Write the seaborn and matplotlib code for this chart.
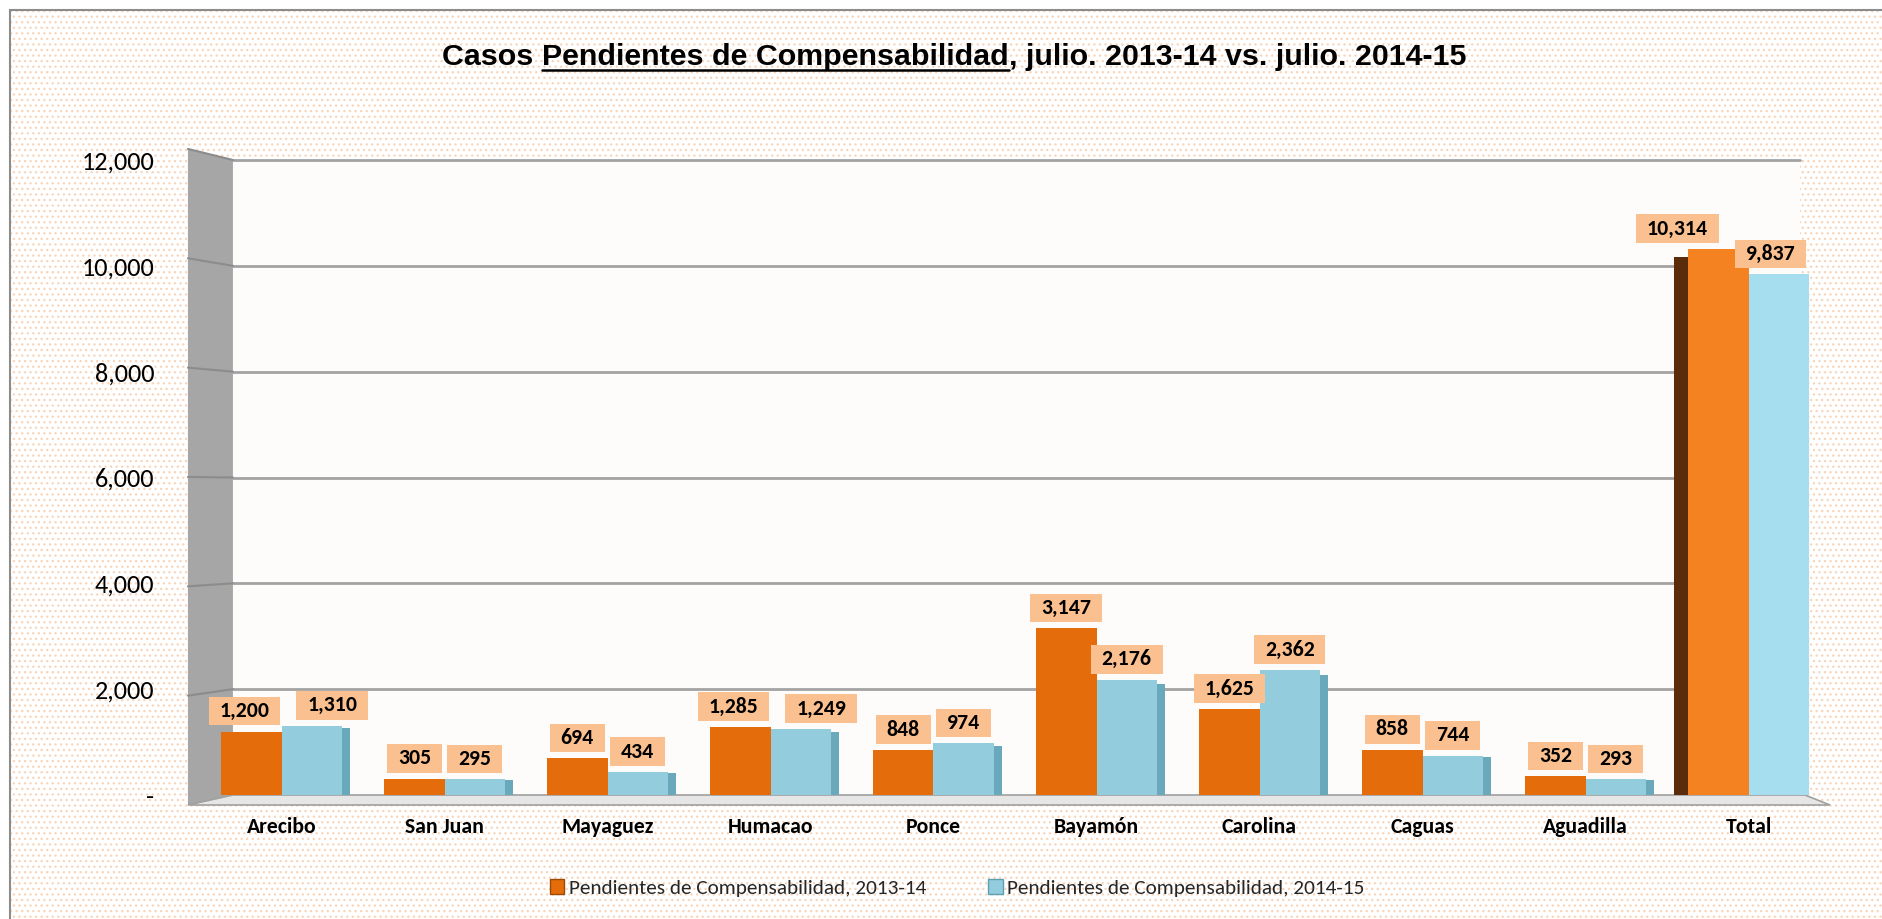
import matplotlib
matplotlib.use("Agg")
import matplotlib.pyplot as plt
import matplotlib.transforms as mtransforms
import seaborn as sns
import pandas as pd
from matplotlib import font_manager as fm
from matplotlib.patches import Rectangle, Polygon
from matplotlib.lines import Line2D
from matplotlib.path import Path

# ---------------- data ----------------
categories = ["Arecibo", "San Juan", "Mayaguez", "Humacao", "Ponce",
              "Bayamón", "Carolina", "Caguas", "Aguadilla", "Total"]
series_names = ["Pendientes de Compensabilidad, 2013-14",
                "Pendientes de Compensabilidad, 2014-15"]
values_2013_14 = [1200, 305, 694, 1285, 848, 3147, 1625, 858, 352, 10314]
values_2014_15 = [1310, 295, 434, 1249, 974, 2176, 2362, 744, 293, 9837]
y_ticks = [0, 2000, 4000, 6000, 8000, 10000, 12000]
y_tick_labels = ["-", "2,000", "4,000", "6,000", "8,000", "10,000", "12,000"]
title_parts = ["Casos ", "Pendientes de Compensabilidad",
               ", julio. 2013-14 vs. julio. 2014-15"]

# ---------------- style ----------------
sns.set_theme(style="white")
available = {f.name for f in fm.fontManager.ttflist}


def pick(*names):
    for n in names:
        if n in available:
            return n
    return "DejaVu Sans"


body_font = pick("Carlito", "Lato", "Open Sans", "Noto Sans")
narrow_font = pick("Liberation Sans Narrow", "Arial Narrow")
has_narrow = narrow_font != "DejaVu Sans"
title_font = narrow_font if has_narrow else pick("Liberation Sans", "Arial")
title_size = 26.7 if has_narrow else 21.9
k = 1.08 if body_font == "Carlito" else 1.0
plt.rcParams["font.family"] = [body_font, "DejaVu Sans"]
plt.rcParams["hatch.linewidth"] = 0.9

orange = "#E46C0A"
blue = "#93CDDD"
orange_total = "#F58220"
blue_total = "#A6DDEF"
label_box = "#FAC090"

W, H = 1883, 919
fig = plt.figure(figsize=(W / 100, H / 100), dpi=100)
fig.patch.set_facecolor("white")

# dotted chart-area background and border
fig.add_artist(Rectangle((10 / W, -0.05), 1.1, (H - 10) / H + 0.05,
                         transform=fig.transFigure, facecolor="white",
                         edgecolor="#F8D4B8", hatch="...", linewidth=0,
                         zorder=-10))
fig.add_artist(Rectangle((10 / W, -0.05), 1.1, (H - 10) / H + 0.05,
                         transform=fig.transFigure, facecolor="none",
                         edgecolor="#8C8C8C", linewidth=1.5, zorder=-9))

ax = fig.add_axes([200 / W, 1 - 795 / H, 1630 / W, 635 / H])
ax.set_facecolor("none")

df = pd.DataFrame({
    "Región": categories * 2,
    "Casos": values_2013_14 + values_2014_15,
    "Serie": [series_names[0]] * len(categories) + [series_names[1]] * len(categories),
})
sns.barplot(data=df, x="Región", y="Casos", hue="Serie",
            palette=[orange, blue], width=0.74, saturation=1,
            ax=ax, legend=False, zorder=3, linewidth=0)
ax.set_xlim(-0.5, len(categories) - 0.5)
ax.set_ylim(0, 12000)

# totals coloured brighter
ax.containers[0][-1].set_facecolor(orange_total)
ax.containers[1][-1].set_facecolor(blue_total)
# dark side face of the total orange bar (3D look)
tb = ax.containers[0][-1]
ax.add_patch(Rectangle((tb.get_x() - 0.09, 0), 0.09, tb.get_height() * 0.985,
                       facecolor="#5B2C0B", edgecolor="none", zorder=2.9))
# side faces for blue bars
for bar in ax.containers[1][:-1]:
    ax.add_patch(Rectangle((bar.get_x() + bar.get_width(), 0), 0.05,
                           bar.get_height() * 0.96, facecolor="#6AA9BB",
                           edgecolor="none", zorder=2.9))

# ---------------- 3D-like walls ----------------
blend = mtransforms.blended_transform_factory(ax.transAxes, ax.transData)
wall_l, wall_r = 0.0202, 0.9816
side_x = -0.0074


def front(v):
    return -189 + v * (12209 + 189) / 12000


ax.add_patch(Rectangle((wall_l, 0), wall_r - wall_l, 12000, transform=blend,
                       facecolor="#FDFCFA", edgecolor="none", zorder=0.5))
ax.add_patch(Polygon([(side_x, front(0)), (wall_l, 0), (wall_l, 12000),
                      (side_x, front(12000))], closed=True, transform=blend,
                     facecolor="#A6A6A6", edgecolor="none", zorder=0.6,
                     clip_on=False))
ax.add_patch(Polygon([(side_x, front(0)), (1.0, front(0)), (wall_r + 0.003, 0),
                      (wall_l, 0)], closed=True, transform=blend,
                     facecolor="#E6E6E6", edgecolor="#A0A0A0", linewidth=1.2,
                     zorder=0.7, clip_on=False))
for v in y_ticks[1:]:
    ax.plot([wall_l, wall_r], [v, v], transform=blend, color="#A3A3A3",
            linewidth=2, zorder=1, clip_on=False)
    ax.plot([side_x, wall_l], [front(v), v], transform=blend, color="#8C8C8C",
            linewidth=1.5, zorder=1, clip_on=False)

# ---------------- axes text ----------------
for s in ax.spines.values():
    s.set_visible(False)
ax.grid(False)
ax.set_yticks(y_ticks)
ax.set_yticklabels(y_tick_labels)
ax.tick_params(axis="y", length=0, pad=33, labelsize=17.5 * k, labelcolor="black")
ax.tick_params(axis="x", length=0, pad=16, labelsize=14.5 * k, labelcolor="black")
for lbl in ax.get_xticklabels():
    lbl.set_fontweight("bold")
ax.set_xlabel("")
ax.set_ylabel("")


def label_box_style(x0, y0, width, height, mutation_size):
    px, py = 0.5 * mutation_size, 0.2 * mutation_size
    x0, y0 = x0 - px, y0 - py
    x1, y1 = x0 + width + 2 * px, y0 + height + 2 * py
    return Path([(x0, y0), (x1, y0), (x1, y1), (x0, y1), (x0, y0)], closed=True)


# data labels
LIFT = 7.5
anns = []
for cont, vals in zip(ax.containers, [values_2013_14, values_2014_15]):
    row = []
    for bar, v in zip(cont, vals):
        a = ax.annotate(f"{v:,}", (bar.get_x() + bar.get_width() / 2, v),
                        xytext=(0, LIFT), textcoords="offset points",
                        ha="center", va="bottom", fontsize=14.5 * k,
                        fontweight="bold", color="black", zorder=6,
                        bbox=dict(boxstyle=label_box_style, fc=label_box, ec="none"))
        row.append(a)
    anns.append(row)

# legend
handles = [Rectangle((0, 0), 1, 1, facecolor=orange, edgecolor="#9C4A06"),
           Rectangle((0, 0), 1, 1, facecolor=blue, edgecolor="#5E9FB2")]
fig.legend(handles, series_names, loc="center",
           bbox_to_anchor=(957 / W, 1 - 888 / H), ncol=2, frameon=False,
           fontsize=14.2 * k, handlelength=0.7, handleheight=0.7,
           handletextpad=0.2, columnspacing=2.9)

# title with underlined middle part
tkw = dict(fontfamily=[title_font, "DejaVu Sans"], fontsize=title_size,
           fontweight="bold", color="black")
t1 = fig.text(0.4, 1 - 65 / H, title_parts[0], ha="left", va="baseline", **tkw)
t2 = ax.annotate(title_parts[1], xy=(1, 0), xycoords=t1, ha="left",
                 va="bottom", **tkw)
t3 = ax.annotate(title_parts[2], xy=(1, 0), xycoords=t2, ha="left",
                 va="bottom", **tkw)
fig.canvas.draw()
r = fig.canvas.get_renderer()

# separate label boxes of a category that would collide
px2pt = 72 / fig.dpi
wall_right_px = ax.transAxes.transform((wall_r, 0))[0]
for a_o, a_b in zip(anns[0], anns[1]):
    bo = a_o.get_bbox_patch().get_window_extent(r)
    bb = a_b.get_bbox_patch().get_window_extent(r)
    if bo.x1 > bb.x0 - 4 and bo.y0 < bb.y1 and bb.y0 < bo.y1:
        need = bo.x1 - bb.x0 + 16
        if bb.x1 + 0.75 * need > wall_right_px:
            a_b.xyann = (-8 * px2pt, LIFT)
            a_o.xyann = (-(need + 8) * px2pt, LIFT)
        else:
            a_o.xyann = (-0.25 * need * px2pt, LIFT)
            a_b.xyann = (0.75 * need * px2pt, LIFT)

b1 = t1.get_window_extent(r)
b3 = t3.get_window_extent(r)
total_w = b3.x1 - b1.x0
t1.set_x((954.5 - total_w / 2) / W)
fig.canvas.draw()
b2 = t2.get_window_extent(r)
uy = (H - 65 - 4.5) / H
fig.add_artist(Line2D([b2.x0 / W, b2.x1 / W], [uy, uy], transform=fig.transFigure,
                      color="black", linewidth=1.8))

fig.savefig("out.png", dpi=100)
